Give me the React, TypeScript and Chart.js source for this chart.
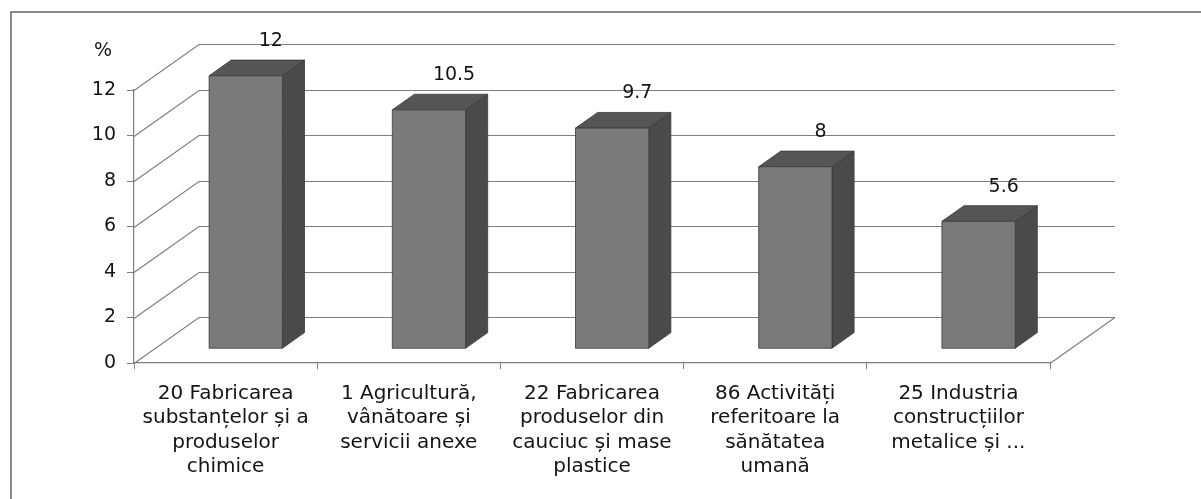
import React, { useEffect, useRef } from "react";
import { Chart, registerables } from "chart.js";

Chart.register(...registerables);

const categories: string[][] = [
  ["20 Fabricarea", "substanțelor și a", "produselor", "chimice"],
  ["1 Agricultură,", "vânătoare și", "servicii anexe"],
  ["22 Fabricarea", "produselor din", "cauciuc și mase", "plastice"],
  ["86 Activități", "referitoare la", "sănătatea", "umană"],
  ["25 Industria", "construcțiilor", "metalice și ..."],
];
const values: number[] = [12, 10.5, 9.7, 8, 5.6];
const valueLabels: string[] = ["12", "10.5", "9.7", "8", "5.6"];
const yTicks: number[] = [0, 2, 4, 6, 8, 10, 12];
const yUnit = "%";

const FONT = "'DejaVu Sans', sans-serif";
const TEXT = "#141414";
const GRID = "#7e7e7e";
const DX = 65;
const DY = -46;
const BAR_OFF = 0.31;
const BAR_DEPTH = 0.34;

const threeD = {
  id: "threeD",
  beforeDatasetsDraw(chart: any) {
    const ctx = chart.ctx;
    const ys = chart.scales.y;
    const { left, right } = chart.chartArea;
    ctx.save();
    ctx.strokeStyle = GRID;
    ctx.lineWidth = 1.2;
    yTicks.forEach((v) => {
      const y = Math.round(ys.getPixelForValue(v)) + 0.5;
      ctx.beginPath();
      ctx.moveTo(left, y);
      ctx.lineTo(left + DX, y + DY);
      ctx.lineTo(right + DX, y + DY);
      ctx.stroke();
    });
    const y0 = Math.round(ys.getPixelForValue(0)) + 0.5;
    ctx.beginPath();
    ctx.moveTo(right, y0);
    ctx.lineTo(right + DX, y0 + DY);
    ctx.stroke();
    // frame
    ctx.strokeStyle = "#666";
    ctx.lineWidth = 1.5;
    ctx.beginPath();
    ctx.moveTo(11, 499);
    ctx.lineTo(11, 12);
    ctx.lineTo(1201, 12);
    ctx.stroke();
    // unit
    ctx.fillStyle = TEXT;
    ctx.font = `19px ${FONT}`;
    ctx.textAlign = "center";
    ctx.textBaseline = "middle";
    ctx.fillText(yUnit, 103, 51);
    ctx.restore();
  },
  beforeDatasetDraw() {
    return false;
  },
  afterDatasetsDraw(chart: any) {
    const ctx = chart.ctx;
    const meta = chart.getDatasetMeta(0);
    ctx.save();
    meta.data.forEach((el: any, i: number) => {
      const { x, y, base, width } = el.getProps(["x", "y", "base", "width"], true);
      const ox = BAR_OFF * DX;
      const oy = BAR_OFF * DY;
      const dx = BAR_DEPTH * DX;
      const dy = BAR_DEPTH * DY;
      const xl = x - width / 2 + ox;
      const xr = x + width / 2 + ox;
      const yt = y + oy;
      const yb = base + oy;
      ctx.lineWidth = 0.8;
      ctx.strokeStyle = "#3a3a3a";
      // side
      ctx.fillStyle = "#4a4a4a";
      ctx.beginPath();
      ctx.moveTo(xr, yt);
      ctx.lineTo(xr + dx, yt + dy);
      ctx.lineTo(xr + dx, yb + dy);
      ctx.lineTo(xr, yb);
      ctx.closePath();
      ctx.fill();
      ctx.stroke();
      // top
      ctx.fillStyle = "#555555";
      ctx.beginPath();
      ctx.moveTo(xl, yt);
      ctx.lineTo(xl + dx, yt + dy);
      ctx.lineTo(xr + dx, yt + dy);
      ctx.lineTo(xr, yt);
      ctx.closePath();
      ctx.fill();
      ctx.stroke();
      // front
      ctx.fillStyle = "#7a7a7a";
      ctx.beginPath();
      ctx.rect(xl, yt, xr - xl, yb - yt);
      ctx.fill();
      ctx.stroke();
      // label
      ctx.fillStyle = TEXT;
      ctx.font = `19px ${FONT}`;
      ctx.textAlign = "center";
      ctx.textBaseline = "middle";
      ctx.fillText(valueLabels[i], (xl + xr) / 2 + dx + 3, yt + dy - 19);
    });
    ctx.restore();
  },
};

export default function App() {
  const ref = useRef<HTMLCanvasElement>(null);
  useEffect(() => {
    if (!ref.current) return;
    const chart = new Chart(ref.current, {
      type: "bar",
      data: {
        labels: categories,
        datasets: [
          {
            data: values,
            backgroundColor: "#7a7a7a",
            barPercentage: 0.4,
            categoryPercentage: 1,
          },
        ],
      },
      options: {
        responsive: false,
        animation: false,
        layout: { padding: { left: 0, right: 151, top: 90, bottom: 0 } },
        plugins: { legend: { display: false }, tooltip: { enabled: false } },
        scales: {
          x: {
            grid: {
              offset: true,
              drawOnChartArea: false,
              tickLength: 6,
              color: GRID,
            },
            border: { display: true, color: GRID, width: 1.2 },
            ticks: {
              color: TEXT,
              font: { family: FONT, size: 20, lineHeight: 1.23 },
              padding: 12,
              maxRotation: 0,
              autoSkip: false,
            },
            afterFit: (s: any) => {
              s.height = 136;
            },
          },
          y: {
            min: 0,
            max: 12,
            ticks: {
              stepSize: 2,
              color: TEXT,
              font: { family: FONT, size: 19 },
              padding: 11,
            },
            grid: {
              drawOnChartArea: false,
              tickLength: 7,
              color: GRID,
            },
            border: { display: true, color: GRID, width: 1.2 },
            afterFit: (s: any) => {
              s.width = 134;
            },
          },
        },
      },
      plugins: [threeD],
    });
    return () => chart.destroy();
  }, []);
  return (
    <div style={{ position: "absolute", left: 0, top: 0, width: 1201, height: 499, background: "#fff" }}>
      <canvas ref={ref} width={1201} height={499} />
    </div>
  );
}
